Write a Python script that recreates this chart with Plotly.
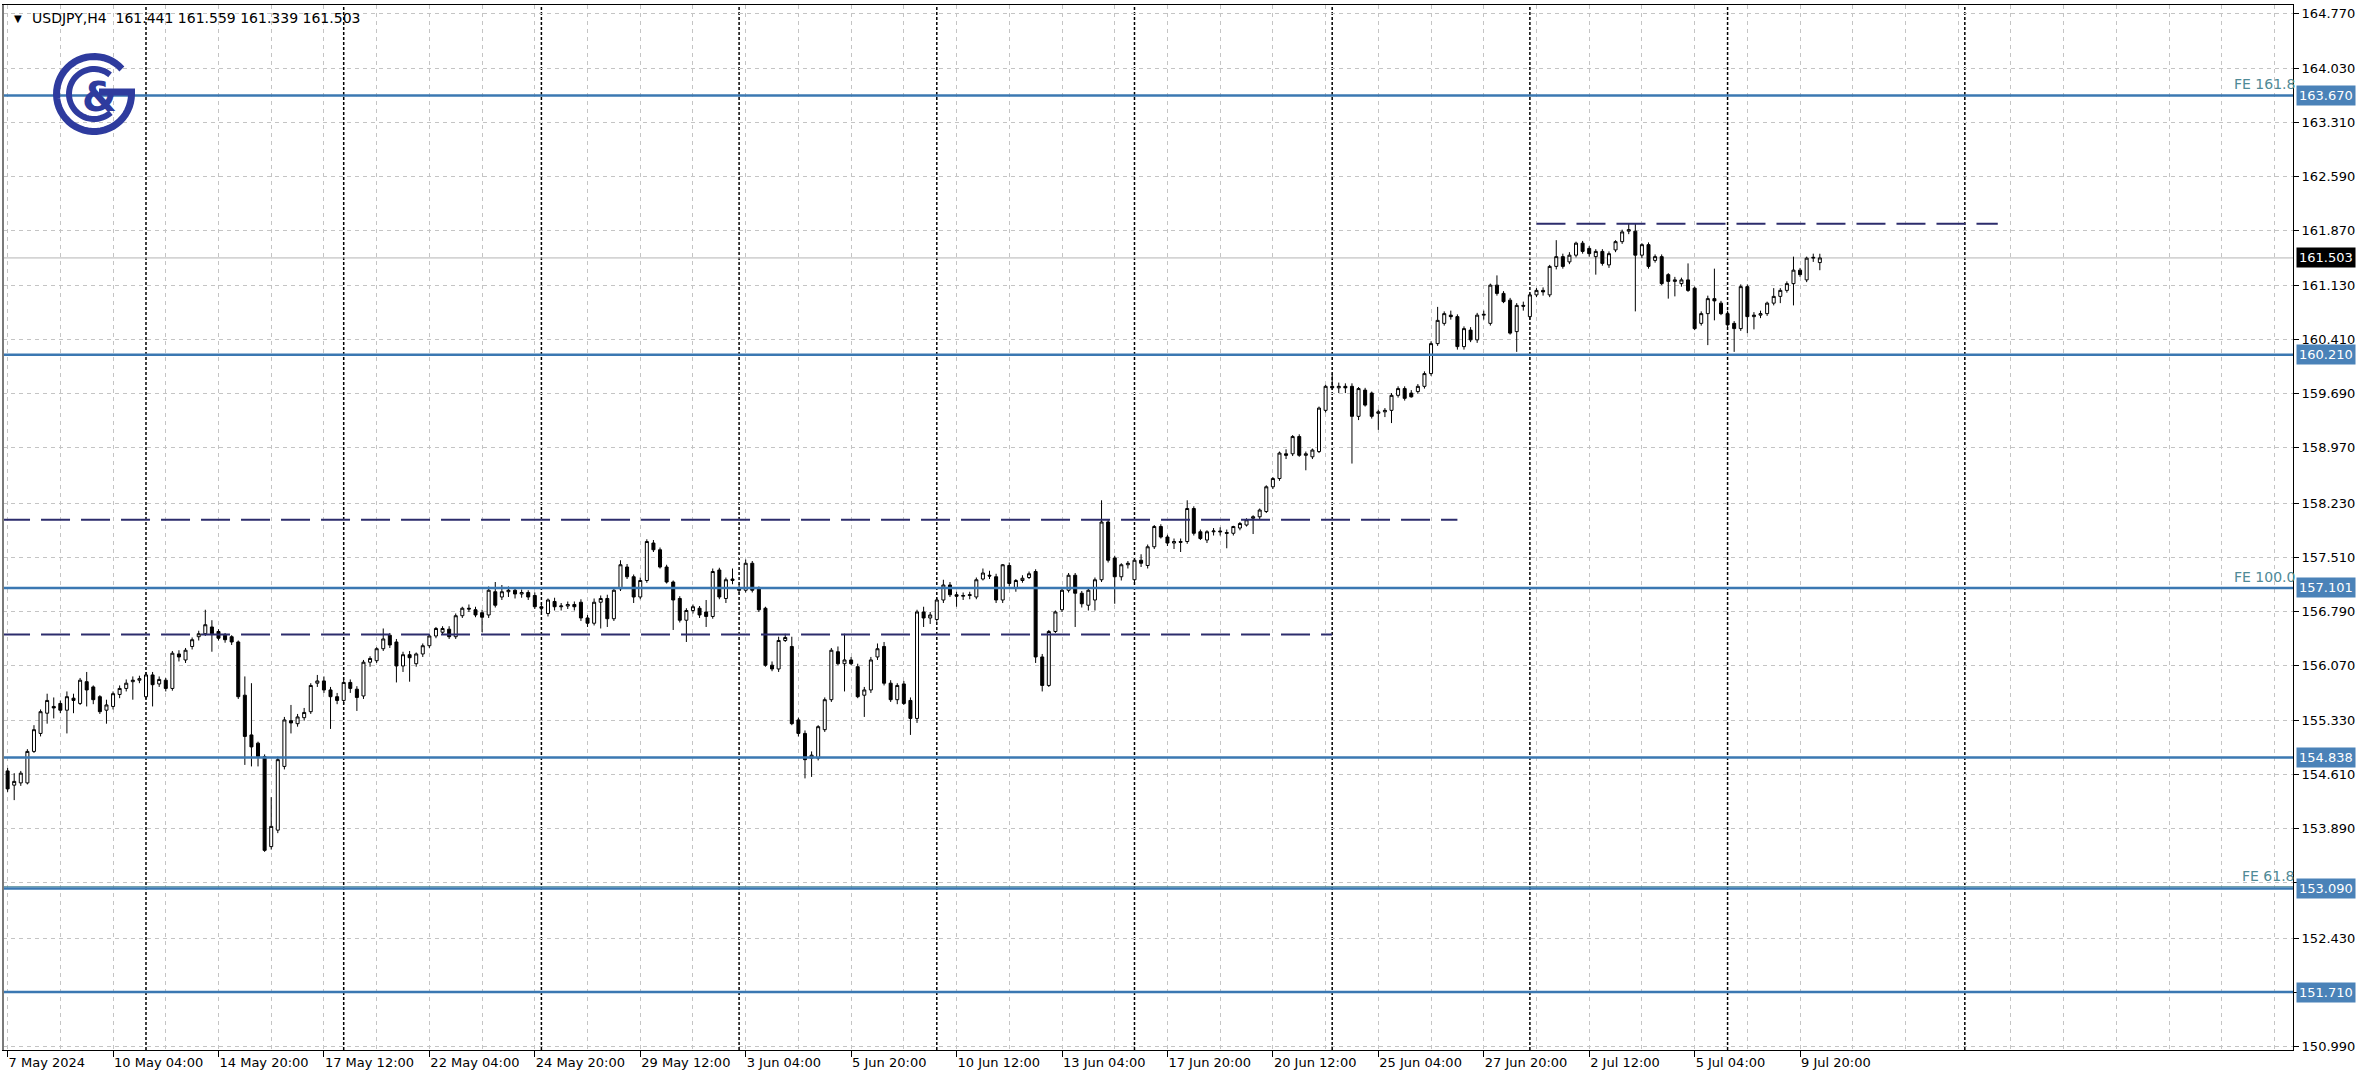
import math
import pandas as pd
import plotly.graph_objects as go

# ---------------- data (USDJPY H4) ----------------
SYMBOL = "USDJPY,H4"
FIRST_BAR = "2024-05-07 12:00"

OPEN = [
    154.66, 154.47, 154.50, 154.50, 154.92, 155.16, 155.43, 155.52, 155.56, 155.47,
    155.63, 155.56, 155.85, 155.78, 155.65, 155.47, 155.52, 155.68, 155.76, 155.85,
    155.87, 155.65, 155.94, 155.82, 155.87, 155.76, 156.22, 156.14, 156.32, 156.45,
    156.49, 156.58, 156.52, 156.47, 156.45, 156.38, 155.67, 155.14, 155.03, 154.85,
    153.65, 153.87, 154.72, 155.33, 155.29, 155.37, 155.45, 155.83, 155.86, 155.74,
    155.65, 155.60, 155.84, 155.75, 155.66, 156.11, 156.13, 156.29, 156.47, 156.38,
    156.06, 156.21, 156.09, 156.22, 156.33, 156.46, 156.51, 156.55, 156.45, 156.73,
    156.83, 156.81, 156.77, 156.74, 157.05, 156.98, 157.05, 157.07, 157.02, 157.04,
    157.00, 156.85, 156.76, 156.92, 156.85, 156.86, 156.88, 156.91, 156.70, 156.63,
    156.91, 156.96, 156.69, 157.09, 157.38, 157.25, 156.98, 157.20, 157.70, 157.61,
    157.38, 157.18, 156.96, 156.67, 156.80, 156.83, 156.78, 156.72, 157.34, 156.96,
    157.22, 157.10, 157.07, 157.43, 157.09, 156.83, 156.07, 156.02, 156.40, 156.32,
    155.34, 155.16, 154.83, 154.83, 155.21, 155.61, 156.25, 156.09, 156.14, 156.05,
    155.67, 155.74, 156.18, 156.32, 155.83, 155.61, 155.82, 155.60, 155.36, 156.78,
    156.70, 156.68, 156.94, 157.14, 157.01, 156.99, 157.00, 156.98, 157.22, 157.27,
    157.25, 156.94, 157.40, 157.10, 157.20, 157.24, 157.32, 156.18, 155.80, 156.52,
    156.81, 157.07, 157.27, 157.03, 156.87, 156.94, 157.21, 157.98, 157.50, 157.25,
    157.41, 157.21, 157.47, 157.40, 157.65, 157.92, 157.78, 157.70, 157.72, 157.72,
    158.16, 157.85, 157.74, 157.85, 157.86, 157.84, 157.83, 157.90, 157.94, 158.03,
    158.05, 158.12, 158.45, 158.56, 158.89, 158.89, 159.12, 158.87, 158.85, 158.92,
    159.47, 159.79, 159.77, 159.79, 159.79, 159.39, 159.74, 159.70, 159.43, 159.45,
    159.47, 159.67, 159.76, 159.70, 159.72, 159.79, 159.96, 160.36, 160.63, 160.74,
    160.72, 160.32, 160.54, 160.41, 160.74, 160.63, 161.14, 161.03, 160.94, 160.52,
    160.87, 160.72, 161.01, 161.07, 161.01, 161.39, 161.52, 161.45, 161.54, 161.70,
    161.63, 161.52, 161.59, 161.41, 161.61, 161.72, 161.86, 161.86, 161.54, 161.68,
    161.47, 161.52, 161.28, 161.19, 161.16, 161.21, 161.10, 160.63, 160.76, 160.96,
    160.90, 160.76, 160.63, 160.56, 161.12, 160.72, 160.74, 160.76, 160.90, 160.99,
    161.07, 161.16, 161.34, 161.21, 161.50, 161.441,
]
HIGH = [
    154.70, 154.63, 154.66, 154.95, 155.27, 155.48, 155.69, 155.64, 155.60, 155.72,
    155.69, 155.90, 155.98, 155.80, 155.67, 155.61, 155.72, 155.80, 155.88, 155.92,
    155.93, 155.98, 155.98, 155.92, 155.90, 156.26, 156.27, 156.30, 156.44, 156.53,
    156.81, 156.67, 156.55, 156.50, 156.47, 156.40, 155.92, 155.83, 155.05, 154.88,
    154.31, 154.85, 155.38, 155.54, 155.42, 155.50, 155.83, 155.94, 155.92, 155.78,
    155.70, 155.88, 155.88, 155.79, 156.14, 156.19, 156.31, 156.56, 156.50, 156.42,
    156.25, 156.26, 156.24, 156.36, 156.48, 156.58, 156.59, 156.59, 156.76, 156.85,
    156.88, 156.85, 156.81, 157.12, 157.18, 157.14, 157.12, 157.10, 157.08, 157.07,
    157.04, 156.90, 156.96, 156.97, 156.90, 156.92, 156.92, 156.95, 156.74, 156.96,
    157.00, 157.01, 157.10, 157.47, 157.42, 157.28, 157.24, 157.75, 157.74, 157.64,
    157.41, 157.20, 156.99, 156.83, 156.88, 156.86, 156.94, 157.36, 157.37, 157.24,
    157.36, 157.15, 157.48, 157.46, 157.12, 156.85, 156.12, 156.45, 156.49, 156.45,
    155.37, 155.20, 154.92, 155.27, 155.64, 156.30, 156.32, 156.49, 156.18, 156.09,
    155.78, 156.18, 156.36, 156.38, 155.87, 155.83, 155.86, 155.64, 156.81, 156.85,
    156.78, 156.97, 157.21, 157.18, 157.05, 157.04, 157.05, 157.24, 157.36, 157.33,
    157.29, 157.42, 157.44, 157.22, 157.27, 157.32, 157.35, 156.22, 156.54, 156.80,
    157.10, 157.30, 157.30, 157.06, 157.10, 157.24, 158.27, 158.02, 157.53, 157.43,
    157.46, 157.50, 157.55, 157.68, 157.94, 157.95, 157.81, 157.76, 157.76, 158.27,
    158.19, 157.88, 157.87, 157.90, 157.91, 157.88, 157.93, 157.98, 158.03, 158.07,
    158.16, 158.47, 158.58, 158.92, 158.95, 159.14, 159.15, 158.92, 158.96, 159.52,
    159.81, 159.96, 159.84, 159.83, 159.83, 159.78, 159.77, 159.72, 159.48, 159.50,
    159.70, 159.79, 159.79, 159.74, 159.82, 159.99, 160.39, 160.85, 160.79, 160.80,
    160.75, 160.59, 160.58, 160.77, 160.80, 161.16, 161.27, 161.06, 160.97, 160.90,
    160.92, 161.03, 161.10, 161.11, 161.41, 161.74, 161.56, 161.58, 161.72, 161.73,
    161.66, 161.62, 161.62, 161.59, 161.74, 161.88, 161.96, 161.96, 161.70, 161.71,
    161.55, 161.55, 161.30, 161.25, 161.24, 161.43, 161.12, 160.79, 161.00, 161.36,
    160.93, 160.80, 160.66, 161.15, 161.15, 160.78, 160.80, 160.92, 161.10, 161.10,
    161.19, 161.52, 161.37, 161.52, 161.56, 161.559,
]
LOW = [
    154.38, 154.27, 154.46, 154.48, 154.90, 155.12, 155.29, 155.36, 155.43, 155.16,
    155.43, 155.54, 155.52, 155.55, 155.42, 155.29, 155.48, 155.63, 155.72, 155.61,
    155.83, 155.62, 155.52, 155.78, 155.72, 155.73, 156.12, 156.10, 156.28, 156.40,
    156.46, 156.25, 156.40, 156.37, 156.34, 155.62, 154.74, 154.72, 154.72, 153.58,
    153.61, 153.83, 154.68, 155.16, 155.25, 155.33, 155.42, 155.78, 155.70, 155.22,
    155.55, 155.55, 155.70, 155.46, 155.62, 156.05, 156.10, 156.26, 156.30, 155.84,
    155.98, 155.85, 156.05, 156.18, 156.30, 156.43, 156.48, 156.42, 156.42, 156.70,
    156.78, 156.71, 156.51, 156.70, 156.84, 156.94, 156.98, 156.96, 156.97, 156.94,
    156.82, 156.78, 156.72, 156.80, 156.80, 156.82, 156.80, 156.66, 156.58, 156.60,
    156.56, 156.58, 156.66, 157.06, 157.22, 156.90, 156.95, 157.17, 157.58, 157.36,
    157.16, 156.54, 156.64, 156.38, 156.76, 156.70, 156.58, 156.69, 156.95, 156.90,
    157.15, 157.03, 157.04, 157.04, 156.78, 156.05, 155.99, 155.98, 156.38, 155.27,
    155.12, 154.56, 154.58, 154.80, 155.18, 155.58, 156.07, 155.72, 156.07, 155.63,
    155.38, 155.70, 156.14, 155.80, 155.58, 155.55, 155.54, 155.14, 155.30, 156.58,
    156.62, 156.65, 156.90, 156.98, 156.85, 156.94, 156.95, 156.95, 157.20, 157.22,
    156.90, 156.90, 157.12, 157.05, 157.17, 157.22, 156.10, 155.72, 155.78, 156.50,
    156.78, 157.04, 156.58, 156.84, 156.80, 156.80, 157.18, 157.44, 156.89, 157.20,
    157.36, 157.18, 157.38, 157.36, 157.62, 157.76, 157.66, 157.62, 157.58, 157.69,
    157.80, 157.74, 157.70, 157.80, 157.80, 157.63, 157.80, 157.87, 157.92, 157.82,
    158.02, 158.10, 158.42, 158.53, 158.82, 158.86, 158.85, 158.67, 158.82, 158.90,
    159.44, 159.74, 159.70, 159.70, 158.76, 159.34, 159.52, 159.36, 159.21, 159.38,
    159.30, 159.64, 159.60, 159.64, 159.69, 159.76, 159.93, 160.33, 160.60, 160.68,
    160.28, 160.28, 160.38, 160.37, 160.68, 160.60, 161.00, 160.90, 160.48, 160.25,
    160.80, 160.68, 160.98, 161.00, 160.98, 161.35, 161.36, 161.42, 161.51, 161.56,
    161.52, 161.28, 161.40, 161.37, 161.58, 161.69, 161.82, 160.79, 161.50, 161.36,
    161.44, 161.14, 160.96, 160.99, 161.12, 161.05, 160.54, 160.60, 160.34, 160.67,
    160.74, 160.58, 160.25, 160.53, 160.50, 160.55, 160.70, 160.73, 160.87, 160.90,
    161.04, 160.87, 161.25, 161.18, 161.45, 161.339,
]
CLOSE = [
    154.42, 154.52, 154.63, 154.92, 155.21, 155.45, 155.60, 155.50, 155.47, 155.65,
    155.60, 155.87, 155.74, 155.61, 155.45, 155.54, 155.69, 155.76, 155.83, 155.87,
    155.89, 155.94, 155.81, 155.88, 155.76, 156.23, 156.18, 156.27, 156.41, 156.49,
    156.61, 156.49, 156.43, 156.41, 156.38, 155.65, 155.12, 154.98, 154.85, 153.60,
    153.92, 154.81, 155.34, 155.30, 155.38, 155.44, 155.80, 155.86, 155.74, 155.65,
    155.60, 155.84, 155.76, 155.64, 156.11, 156.16, 156.29, 156.42, 156.34, 156.06,
    156.21, 156.17, 156.22, 156.33, 156.46, 156.56, 156.56, 156.45, 156.73, 156.83,
    156.82, 156.74, 156.71, 157.07, 156.87, 157.05, 157.07, 157.02, 157.04, 156.98,
    156.85, 156.83, 156.94, 156.85, 156.86, 156.88, 156.85, 156.70, 156.63, 156.91,
    156.96, 156.69, 157.07, 157.41, 157.25, 156.98, 157.20, 157.72, 157.61, 157.38,
    157.18, 156.94, 156.67, 156.80, 156.85, 156.74, 156.72, 157.32, 156.98, 157.21,
    157.20, 157.07, 157.43, 157.07, 156.81, 156.07, 156.02, 156.40, 156.44, 155.29,
    155.16, 154.81, 154.87, 155.25, 155.61, 156.27, 156.09, 156.14, 156.09, 155.65,
    155.74, 156.14, 156.29, 155.83, 155.61, 155.80, 155.56, 155.36, 156.78, 156.70,
    156.74, 156.94, 157.14, 157.01, 156.99, 157.00, 157.01, 157.21, 157.30, 157.26,
    156.94, 157.41, 157.16, 157.20, 157.23, 157.29, 156.18, 155.80, 156.52, 156.78,
    157.07, 157.27, 157.03, 156.89, 157.07, 157.21, 157.98, 157.47, 157.25, 157.41,
    157.43, 157.47, 157.43, 157.65, 157.92, 157.78, 157.70, 157.72, 157.71, 158.16,
    157.83, 157.76, 157.85, 157.86, 157.85, 157.83, 157.92, 157.96, 158.01, 158.05,
    158.14, 158.45, 158.56, 158.90, 158.87, 159.12, 158.87, 158.89, 158.94, 159.50,
    159.79, 159.77, 159.79, 159.77, 159.39, 159.76, 159.54, 159.39, 159.45, 159.47,
    159.67, 159.76, 159.63, 159.65, 159.79, 159.96, 160.36, 160.67, 160.76, 160.72,
    160.32, 160.56, 160.41, 160.74, 160.75, 161.14, 161.03, 160.92, 160.50, 160.87,
    160.86, 161.01, 161.07, 161.05, 161.39, 161.52, 161.39, 161.54, 161.70, 161.59,
    161.56, 161.59, 161.43, 161.56, 161.72, 161.85, 161.88, 161.54, 161.68, 161.39,
    161.52, 161.16, 161.19, 161.21, 161.21, 161.07, 160.56, 160.76, 160.96, 160.93,
    160.76, 160.61, 160.56, 161.12, 160.72, 160.74, 160.76, 160.90, 160.99, 161.07,
    161.16, 161.34, 161.28, 161.50, 161.51, 161.503,
]

H_LEVELS = [163.670, 160.210, 157.101, 154.838, 153.090, 151.710]   # solid blue levels
FE_LEVELS = [163.670, 157.101, 153.115]                              # fibo expansion levels
FE_TEXT = ["FE 161.8", "FE 100.0", "FE 61.8"]
DASH_LEVELS = [161.96, 158.01, 156.48]                               # dashed navy levels
DASH_START = [232, -1, -1]                                           # bar index
DASH_END = [302, 220, 201]
Y_TICKS = [164.770, 164.030, 163.310, 162.590, 161.870, 161.130, 160.410, 159.690,
           158.970, 158.230, 157.510, 156.790, 156.070, 155.330, 154.610, 153.890,
           153.170, 152.430, 151.710, 150.990]
Y_HIDDEN = [153.170, 151.710]
LABEL_EVERY = 16
MINOR_EVERY = 8

# ---------------- styling ----------------
FONT = "DejaVu Sans"
GRID = "#c4c4c4"
BLUE = "#3b78b2"
BLUE_LABEL = "#4a82b8"
NAVY = "#2c2c6c"
FE_COLOR = "#4f8a96"
LOGO = "#2e3b9e"
X_RANGE = [-0.7, 346.8]
Y_RANGE = [150.937, 164.877]

n = len(CLOSE)
idx = list(range(n))

# bar times (H4, Mon-Fri)
times = []
t = pd.Timestamp(FIRST_BAR)
while len(times) < n:
    if t.weekday() < 5:
        times.append(t)
    t += pd.Timedelta(hours=4)


def week_key(ts):
    d = (ts + pd.Timedelta(days=1)).isocalendar()
    return (d[0], d[1])


sep_idx = [i for i in range(1, n) if week_key(times[i]) != week_key(times[i - 1])]
# the terminal shows only the next week start in the empty future area
t = times[-1]
i = n - 1
while i < X_RANGE[1]:
    t2 = t + pd.Timedelta(hours=4)
    i += 1
    if week_key(t2) != week_key(t):
        sep_idx.append(i)
        break
    t = t2

tick_idx = list(range(0, n, LABEL_EVERY))
tick_txt = []
for k in tick_idx:
    ts = times[k]
    if k == 0:
        tick_txt.append(f"{ts.day} {ts:%b} {ts.year}")
    else:
        tick_txt.append(f"{ts.day} {ts:%b} {ts:%H:%M}")

fig = go.Figure()
fig.add_trace(go.Candlestick(
    x=idx, open=OPEN, high=HIGH, low=LOW, close=CLOSE,
    increasing=dict(line=dict(color="black", width=1), fillcolor="white"),
    decreasing=dict(line=dict(color="black", width=1), fillcolor="black"),
    whiskerwidth=0, hoverinfo="skip", showlegend=False,
))

shapes = []
for s in sep_idx:
    shapes.append(dict(type="line", xref="x", yref="paper", x0=s, x1=s, y0=0, y1=1,
                       line=dict(color="black", width=1.5, dash="3px,2px"), layer="between"))
# bid line
shapes.append(dict(type="line", xref="paper", yref="y", x0=0, x1=1, y0=CLOSE[-1], y1=CLOSE[-1],
                   line=dict(color="#b4b4b4", width=1), layer="between"))
# fibo 61.8 thin line
shapes.append(dict(type="line", xref="paper", yref="y", x0=0, x1=1, y0=FE_LEVELS[2], y1=FE_LEVELS[2],
                   line=dict(color=FE_COLOR, width=1), layer="above"))
for lv in H_LEVELS:
    shapes.append(dict(type="line", xref="paper", yref="y", x0=0, x1=1, y0=lv, y1=lv,
                       line=dict(color=BLUE, width=2.5), layer="above"))
for lv, a, b in zip(DASH_LEVELS, DASH_START, DASH_END):
    shapes.append(dict(type="line", xref="x", yref="y", x0=a, x1=b, y0=lv, y1=lv,
                       line=dict(color=NAVY, width=2, dash="29px,11px"), layer="above"))
# thicker left frame
shapes.append(dict(type="line", xref="paper", yref="paper", x0=0, x1=0, y0=0, y1=1,
                   line=dict(color="#7a7a7a", width=2), layer="above"))


# logo (decorative)
def arc(r, a0, a1, steps=48):
    pts = []
    for k in range(steps + 1):
        a = math.radians(a0 + (a1 - a0) * k / steps)
        pts.append(f"{r * math.cos(a):.2f},{r * math.sin(a):.2f}")
    return "M " + " L ".join(pts)


LX = (94 - 3) / 2290
LY = 1 - (94 - 5) / 1045
for path, w in [(arc(37.5, 42, 360), 7), (arc(25, 50, 312), 6), ("M 5,2 L 41,2", 7)]:
    shapes.append(dict(type="path", path=path, xref="paper", yref="paper",
                       xsizemode="pixel", ysizemode="pixel", xanchor=LX, yanchor=LY,
                       line=dict(color=LOGO, width=w), fillcolor="rgba(0,0,0,0)", layer="above"))

annotations = []
annotations.append(dict(text="&", x=(99 - 3) / 2290, y=1 - (97 - 5) / 1045, xref="paper", yref="paper",
                        showarrow=False, xanchor="center", yanchor="middle",
                        font=dict(family="DejaVu Sans", size=40, color=LOGO, weight="bold")))
# title
annotations.append(dict(text="▼", x=(12 - 3) / 2290, y=1 - (18 - 5) / 1045, xref="paper", yref="paper",
                        showarrow=False, xanchor="left", yanchor="middle",
                        font=dict(family=FONT, size=10, color="black")))
annotations.append(dict(
    text=f"{SYMBOL}\u00a0\u00a0{OPEN[-1]:.3f} {HIGH[-1]:.3f} {LOW[-1]:.3f} {CLOSE[-1]:.3f}",
    x=(30 - 3) / 2290, y=1 - (18 - 5) / 1045, xref="paper", yref="paper",
    showarrow=False, xanchor="left", yanchor="middle",
    font=dict(family=FONT, size=14, color="black")))
# FE texts
for lv, txt in zip(FE_LEVELS, FE_TEXT):
    annotations.append(dict(text=txt, x=1, y=lv, xref="paper", yref="y", showarrow=False,
                            xanchor="right", yanchor="bottom", yshift=1, xshift=4,
                            font=dict(family=FONT, size=14, color=FE_COLOR)))
# price labels
for lv in H_LEVELS:
    annotations.append(dict(text=f"{lv:.3f}", x=1, y=lv, xref="paper", yref="y", showarrow=False,
                            xanchor="left", yanchor="middle", xshift=3,
                            bgcolor=BLUE_LABEL, borderpad=2,
                            font=dict(family=FONT, size=13, color="white")))
annotations.append(dict(text=f"{CLOSE[-1]:.3f}", x=1, y=CLOSE[-1], xref="paper", yref="y", showarrow=False,
                        xanchor="left", yanchor="middle", xshift=3, bgcolor="black", borderpad=2,
                        font=dict(family=FONT, size=13, color="white")))

y_txt = ["" if v in Y_HIDDEN else f"{v:.3f}" for v in Y_TICKS]

fig.update_layout(
    width=2372, height=1089,
    margin=dict(l=3, r=79, t=5, b=39),
    paper_bgcolor="white", plot_bgcolor="white",
    showlegend=False, boxgap=0.35,
    shapes=shapes, annotations=annotations,
    xaxis=dict(
        range=X_RANGE, rangeslider=dict(visible=False),
        tickmode="array", tickvals=tick_idx, ticktext=tick_txt,
        ticks="outside", ticklen=6, tickcolor="black", tickwidth=1,
        ticklabelposition="outside right",
        showline=True, linecolor="black", linewidth=1, mirror=True,
        showgrid=True, gridcolor=GRID, griddash="4px,4px", gridwidth=1,
        minor=dict(tickmode="linear", tick0=0, dtick=MINOR_EVERY, showgrid=True,
                   gridcolor=GRID, griddash="4px,4px", gridwidth=1, ticks=""),
        zeroline=False, fixedrange=True,
        tickfont=dict(family=FONT, size=13, color="black"),
    ),
    yaxis=dict(
        range=Y_RANGE, side="right",
        tickmode="array", tickvals=Y_TICKS, ticktext=y_txt,
        ticks="outside", ticklen=5, tickcolor="black", tickwidth=1,
        showline=True, linecolor="black", linewidth=1, mirror=True,
        showgrid=True, gridcolor=GRID, griddash="4px,4px", gridwidth=1,
        zeroline=False, fixedrange=True,
        tickfont=dict(family=FONT, size=13, color="black"),
    ),
)

fig.write_html("out.html", config={"displayModeBar": False},
               post_script="document.body.style.margin='0';document.body.style.overflow='hidden';")
